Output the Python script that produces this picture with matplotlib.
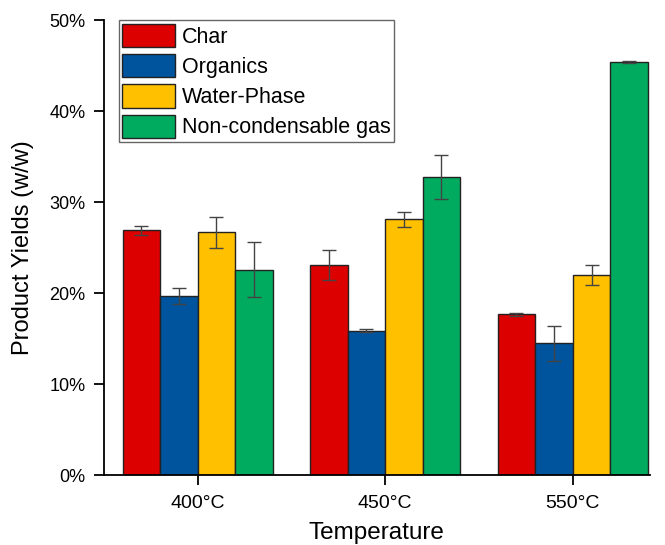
import numpy as np
import matplotlib
matplotlib.use("Agg")
import matplotlib.pyplot as plt
from matplotlib.patches import Rectangle
from matplotlib.legend_handler import HandlerPatch
from matplotlib.ticker import PercentFormatter

plt.rcParams['font.family'] = ['Liberation Sans', 'DejaVu Sans']

# -----------------------------------------
# DATA
# -----------------------------------------

temperatures = ['400°C', '450°C', '550°C']
series_names = ['Char', 'Organics', 'Water-Phase', 'Non-condensable gas']

char = [26.9, 23.1, 17.7]
organics = [19.7, 15.9, 14.5]
water_phase = [26.7, 28.1, 22.0]
gas = [22.6, 32.8, 45.4]

char_err = [0.45, 1.7, 0.15]
organics_err = [0.85, 0.2, 1.9]
water_phase_err = [1.7, 0.85, 1.1]
gas_err = [3.0, 2.4, 0.15]

colors = ['#DC0000', '#00549E', '#FFC000', '#00AB5F']


# legend swatch fills the whole handle box
def full_box(legend, orig_handle, xdescent, ydescent, width, height, fontsize):
    return Rectangle((-xdescent, -ydescent), width, height + ydescent)


# -----------------------------------------
# PLOT
# -----------------------------------------

fig = plt.figure(figsize=(6.65, 5.45), dpi=100)
ax = fig.add_axes([0.156, 0.128, 0.821, 0.835])

x = np.arange(len(temperatures))
width = 0.2
values = [char, organics, water_phase, gas]
errors = [char_err, organics_err, water_phase_err, gas_err]

for i, (vals, errs) in enumerate(zip(values, errors)):
    ax.bar(
        x + (i - 1.5) * width,
        vals,
        width,
        yerr=errs,
        color=colors[i],
        edgecolor='#222222',
        linewidth=1.0,
        label=series_names[i],
        error_kw=dict(ecolor='#444444', elinewidth=1.0, capsize=5, capthick=1.0),
    )

ax.set_xlim(-0.5, 2.41)
ax.set_ylim(0, 50)
ax.set_yticks([0, 10, 20, 30, 40, 50])
ax.yaxis.set_major_formatter(PercentFormatter(decimals=0))
ax.set_xticks(x)
ax.set_xticklabels(temperatures)

ax.spines['top'].set_visible(False)
ax.spines['right'].set_visible(False)
ax.spines['left'].set_linewidth(1.3)
ax.spines['bottom'].set_linewidth(1.3)
ax.tick_params(axis='both', direction='out', length=7, width=1.3,
               labelsize=13, pad=6)
ax.tick_params(axis='x', labelsize=14, pad=7)

ax.set_xlabel('Temperature', fontsize=17.5, labelpad=7.5)
ax.set_ylabel('Product Yields (w/w)', fontsize=17, labelpad=11)

leg = ax.legend(
    loc='upper left',
    bbox_to_anchor=(0.0275, 1.0),
    fontsize=15.5,
    handlelength=2.46,
    handleheight=1.28,
    labelspacing=0.3,
    handletextpad=0.31,
    borderpad=0.17,
    borderaxespad=0.0,
    fancybox=False,
    framealpha=1,
    edgecolor='#666666',
    handler_map={Rectangle: HandlerPatch(patch_func=full_box)},
)

plt.savefig("out.png", dpi=100)
